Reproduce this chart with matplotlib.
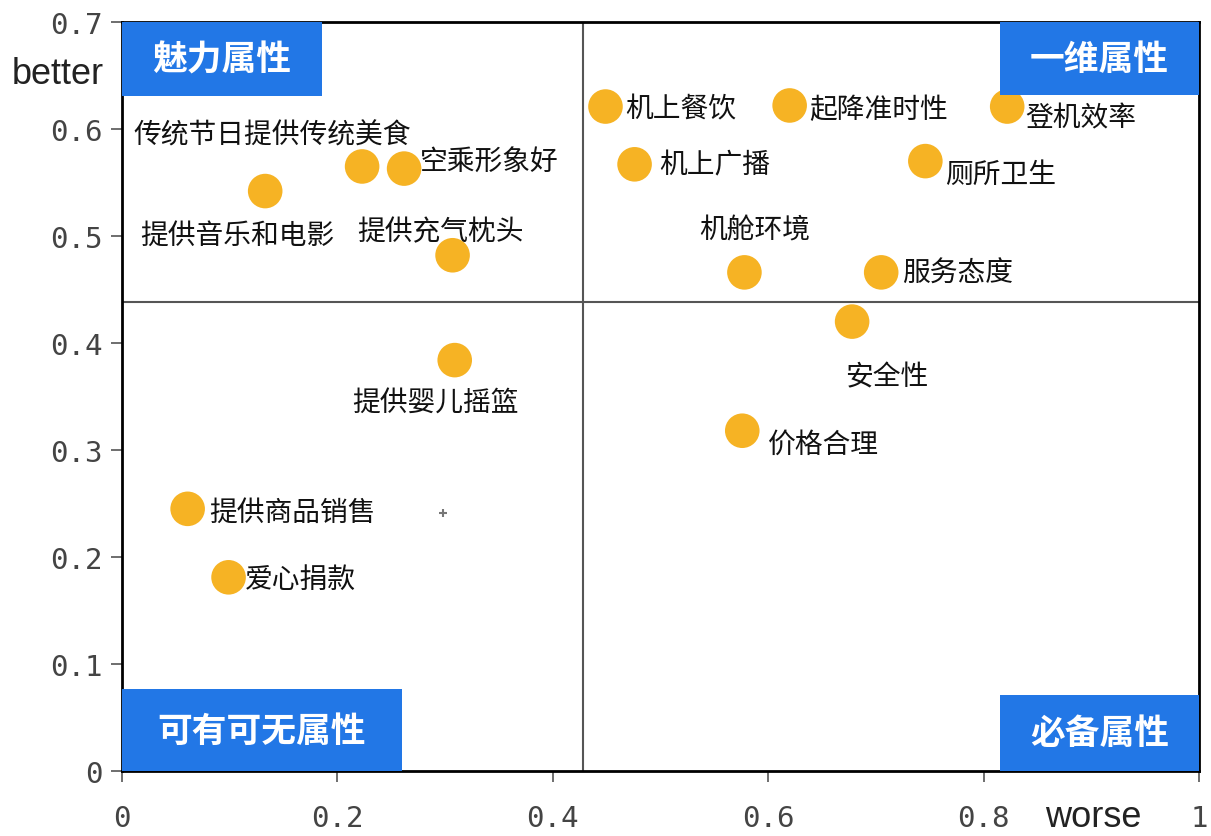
import matplotlib.pyplot as plt
from matplotlib.patches import Rectangle

plt.rcParams['font.family'] = ['Noto Sans CJK SC', 'DejaVu Sans']

# KANO attribute scores: worse (x) and better (y)
labels = ['提供音乐和电影', '传统节日提供传统美食', '空乘形象好', '提供充气枕头',
          '提供婴儿摇篮', '提供商品销售', '爱心捐款', '机上餐饮', '机上广播',
          '起降准时性', '登机效率', '厕所卫生', '机舱环境', '服务态度',
          '安全性', '价格合理']
worse = [0.133, 0.223, 0.262, 0.307, 0.309, 0.061, 0.099, 0.449, 0.476,
         0.620, 0.822, 0.746, 0.578, 0.705, 0.678, 0.576]
better = [0.542, 0.565, 0.563, 0.482, 0.384, 0.245, 0.181, 0.621, 0.567,
          0.622, 0.621, 0.570, 0.466, 0.466, 0.420, 0.318]

# quadrant split (mean worse / mean better)
worse_mid = 0.428
better_mid = 0.438

x_ticks = [0, 0.2, 0.4, 0.6, 0.8, 1]
x_tick_labels = ['0', '0.2', '0.4', '0.6', '0.8', '1']
y_ticks = [0, 0.1, 0.2, 0.3, 0.4, 0.5, 0.6, 0.7]
y_tick_labels = ['0', '0.1', '0.2', '0.3', '0.4', '0.5', '0.6', '0.7']

quadrants = ['魅力属性', '一维属性', '可有可无属性', '必备属性']

# label offsets from each point, in pixels (left edge, vertical centre)
offsets = [(-125, -44), (-229, 32), (16, 7), (-95, 24), (-103, -43),
           (22, -3), (16, -2), (20, -2), (25, 0), (20, -4), (18, -11),
           (20, -13), (-45, 43), (21, 0), (-7, -55), (26, -13)]

fig = plt.figure(figsize=(12.11, 8.37), dpi=100)
ax = fig.add_axes([0.1007, 0.0777, 0.8893, 0.8948])

ax.axvline(worse_mid, color='#555555', lw=1.5, zorder=1)
ax.axhline(better_mid, color='#555555', lw=1.5, zorder=1)

ax.scatter(worse, better, s=620, color='#F6B324', edgecolors='none', zorder=3)
ax.plot([0.298], [0.241], marker='+', color='#777777', ms=6, mew=1.5)

for name, x, y, (dx, dy) in zip(labels, worse, better, offsets):
    ax.annotate(name, (x, y), xytext=(dx, dy), textcoords='offset pixels',
                ha='left', va='center', fontsize=20, color='#111111', zorder=4)

ax.set_xlim(0, 1)
ax.set_ylim(0, 0.7)
ax.set_xticks(x_ticks)
ax.set_xticklabels(x_tick_labels, family='DejaVu Sans Mono')
ax.set_yticks(y_ticks)
ax.set_yticklabels(y_tick_labels, family='DejaVu Sans Mono')
ax.tick_params(axis='both', labelsize=21, labelcolor='#444444', length=8,
               width=1.2, color='#555555')
ax.tick_params(axis='x', pad=16)
ax.tick_params(axis='y', pad=6)
for sp in ax.spines.values():
    sp.set_linewidth(2)
    sp.set_color('black')

# blue quadrant name boxes
boxes = [(0, 0.901, 0.1857, 0.099), (0.815, 0.9025, 0.185, 0.0975),
         (0, 0, 0.26, 0.1095), (0.815, 0, 0.185, 0.1015)]
for name, (bx, by, bw, bh) in zip(quadrants, boxes):
    ax.add_patch(Rectangle((bx, by), bw, bh, transform=ax.transAxes,
                           facecolor='#2277E6', edgecolor='none',
                           clip_on=False, zorder=5))
    ax.text(bx + bw / 2, by + bh / 2, name, transform=ax.transAxes,
            ha='center', va='center', fontsize=25, fontweight='bold',
            color='white', zorder=6)

fig.text(58 / 1211, 1 - 75 / 837, 'better', ha='center', va='center',
         fontsize=26, family='Liberation Sans', color='#222222')
fig.text(1093 / 1211, 1 - 818 / 837, 'worse', ha='center', va='center',
         fontsize=26, family='Liberation Sans', color='#222222')

fig.savefig('out.png', dpi=100, facecolor='white')
